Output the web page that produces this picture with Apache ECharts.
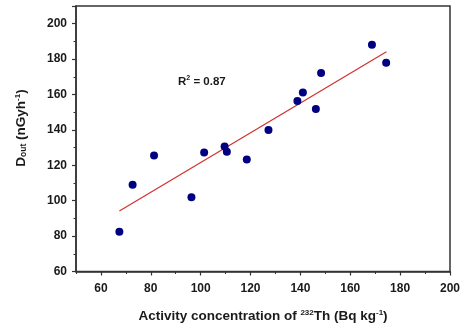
<!DOCTYPE html>
<html>
<head>
<meta charset="utf-8">
<script src="https://cdn.jsdelivr.net/npm/echarts@6/dist/echarts.min.js"></script>
<style>
  html, body { margin: 0; padding: 0; background: #fff; }
  #chart { width: 463px; height: 328px; }
</style>
</head>
<body>
<div id="chart"></div>
<script>
// Th-232 activity (Bq/kg) vs outdoor dose rate (nGy/h)
const thActivity = [67.4, 72.7, 81.3, 96.3, 101.4, 109.6, 110.5, 118.5, 127.2, 138.8, 141.0, 146.2, 148.3, 168.7, 174.4];
const doseOut    = [82.4, 109.0, 125.6, 101.9, 127.3, 130.6, 127.6, 123.3, 140.0, 156.3, 161.2, 151.8, 172.1, 188.1, 178.0];
// ends of the fitted line as drawn
const fitX = [67.4, 174.5];
const fitY = [94.2, 184.2];
const r2Label = "0.87";
const xTicks = [60, 80, 100, 120, 140, 160, 180, 200];

const chart = echarts.init(document.getElementById("chart"), null, { renderer: "canvas" });

const FONT = "Liberation Sans, Arial, sans-serif";
const INK = "#1a1a1a";

const axisLine = { show: true, lineStyle: { color: "#333", width: 1.5 } };
const tickLabel = { color: INK, fontFamily: FONT, fontWeight: "bold", fontSize: 12 };

chart.setOption({
  backgroundColor: "#fff",
  animation: false,
  grid: { left: 76, right: 9, top: 6, bottom: 55, show: true, borderColor: "#333", borderWidth: 1.5, containLabel: false },
  xAxis: [
    {
      type: "value", min: 50, max: 200, interval: 10,
      axisLine,
      axisTick: { show: true, length: 4, customValues: xTicks, lineStyle: { color: "#333", width: 1.2 } },
      axisLabel: { ...tickLabel, margin: 11, customValues: xTicks },
      splitLine: { show: false },
      name: "{t|Activity concentration of }{s|232}{t|Th (Bq kg}{s|-1}{t|)}",
      nameLocation: "middle", nameGap: 37,
      nameTextStyle: {
        rich: {
          t: { fontFamily: FONT, fontWeight: "bold", fontSize: 13.5, color: INK },
          s: { fontFamily: FONT, fontWeight: "bold", fontSize: 8, color: INK, padding: [0, 0, 7, 0] },
        },
      },
    },
    {
      // minor ticks every 10
      type: "value", min: 50, max: 200, interval: 10, position: "bottom",
      axisLine: { show: false },
      axisTick: { show: true, length: 2.5, lineStyle: { color: "#333", width: 1 } },
      axisLabel: { show: false },
      splitLine: { show: false },
    },
  ],
  yAxis: {
    type: "value", min: 60, max: 210, interval: 20,
    axisLine,
    axisTick: { show: true, length: 4, lineStyle: { color: "#333", width: 1.2 } },
    minorTick: { show: true, splitNumber: 2, length: 2.5, lineStyle: { color: "#333", width: 1 } },
    axisLabel: { ...tickLabel, margin: 9, showMaxLabel: false },
    splitLine: { show: false },
  },
  series: [
    {
      type: "line",
      data: fitX.map((x, i) => [x, fitY[i]]),
      symbol: "none",
      lineStyle: { color: "#d0312d", width: 1.2 },
      z: 2,
    },
    {
      type: "scatter",
      data: thActivity.map((x, i) => [x, doseOut[i]]),
      symbol: "circle",
      symbolSize: 8,
      itemStyle: { color: "#000080", opacity: 1 },
      z: 3,
    },
  ],
  graphic: [
    {
      type: "text", left: 178, top: 75,
      style: {
        text: "{t|R}{s|2}{t| = " + r2Label + "}",
        rich: {
          t: { fontFamily: FONT, fontWeight: "bold", fontSize: 11.5, fill: INK },
          s: { fontFamily: FONT, fontWeight: "bold", fontSize: 7, fill: INK, padding: [0, 0, 6, 0] },
        },
      },
    },
    {
      // y-axis title
      type: "text", x: 21, y: 128, rotation: Math.PI / 2,
      style: {
        text: "{t|D}{b|out}{t| (nGyh}{s|-1}{t|)}",
        align: "center", verticalAlign: "middle",
        rich: {
          t: { fontFamily: FONT, fontWeight: "bold", fontSize: 13.5, fill: INK },
          b: { fontFamily: FONT, fontWeight: "bold", fontSize: 8.5, fill: INK, padding: [6, 0, 0, 0] },
          s: { fontFamily: FONT, fontWeight: "bold", fontSize: 8, fill: INK, padding: [0, 0, 7, 0] },
        },
      },
    },
  ],
});
</script>
</body>
</html>
